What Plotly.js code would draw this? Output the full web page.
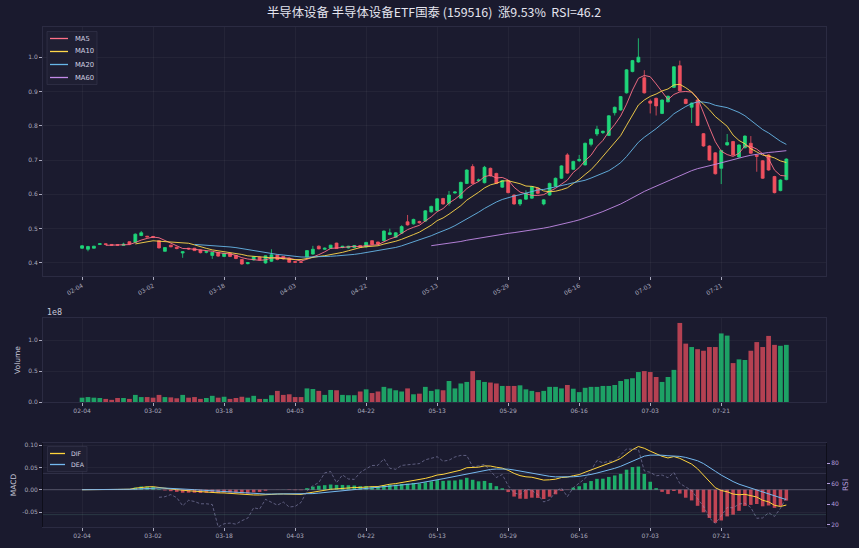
<!DOCTYPE html>
<html>
<head>
<meta charset="utf-8">
<script src="https://cdn.plot.ly/plotly-3.0.1.min.js"></script>
<style>
html,body{margin:0;padding:0;background:#1a1a2e;}
#chart{width:859px;height:548px;}
</style>
</head>
<body>
<div id="chart"></div>
<script>
// ---------- data ----------
const dates = [
"02-04","02-05","02-06","02-09","02-10","02-11","02-12","02-13","02-24","02-25",
"02-26","02-27","03-02","03-03","03-04","03-05","03-06","03-09","03-10","03-11",
"03-12","03-13","03-16","03-17","03-18","03-19","03-20","03-23","03-24","03-25",
"03-26","03-27","03-30","03-31","04-01","04-02","04-03","04-07","04-08","04-09",
"04-10","04-13","04-14","04-15","04-16","04-17","04-20","04-21","04-22","04-23",
"04-24","04-27","04-28","04-29","04-30","05-06","05-07","05-08","05-11","05-12",
"05-13","05-14","05-15","05-18","05-19","05-20","05-21","05-22","05-25","05-26",
"05-27","05-28","05-29","06-01","06-02","06-03","06-04","06-05","06-08","06-09",
"06-10","06-11","06-12","06-15","06-16","06-17","06-18","06-22","06-23","06-24",
"06-25","06-26","06-29","06-30","07-01","07-02","07-03","07-06","07-07","07-08",
"07-09","07-10","07-13","07-14","07-15","07-16","07-17","07-20","07-21","07-22",
"07-23","07-24","07-27","07-28","07-29","07-30","07-31","08-03","08-04","08-05"
];
const openP = [
0.443,0.440,0.443,0.454,0.456,0.454,0.453,0.451,0.462,0.460,
0.480,0.478,0.477,0.465,0.434,0.452,0.446,0.429,0.443,0.443,
0.438,0.431,0.422,0.431,0.419,0.428,0.422,0.410,0.398,0.409,
0.417,0.400,0.405,0.423,0.419,0.414,0.404,0.403,0.418,0.426,
0.449,0.440,0.443,0.458,0.445,0.444,0.445,0.451,0.447,0.465,
0.461,0.465,0.483,0.475,0.487,0.520,0.514,0.521,0.522,0.549,
0.553,0.588,0.574,0.604,0.589,0.632,0.681,0.640,0.634,0.676,
0.661,0.621,0.640,0.598,0.572,0.586,0.589,0.618,0.572,0.598,
0.624,0.647,0.715,0.673,0.698,0.686,0.746,0.776,0.780,0.772,
0.838,0.846,0.896,0.958,0.986,0.940,0.872,0.880,0.836,0.870,
0.912,0.975,0.877,0.854,0.875,0.777,0.741,0.721,0.676,0.744,
0.754,0.709,0.736,0.749,0.714,0.698,0.715,0.652,0.611,0.643
];
const highP = [
0.452,0.450,0.450,0.458,0.457,0.455,0.454,0.459,0.463,0.486,
0.493,0.479,0.479,0.466,0.446,0.453,0.447,0.434,0.444,0.444,
0.439,0.435,0.432,0.432,0.429,0.429,0.423,0.411,0.402,0.419,
0.418,0.422,0.440,0.424,0.420,0.416,0.405,0.404,0.437,0.450,
0.451,0.445,0.453,0.459,0.450,0.450,0.452,0.452,0.461,0.466,
0.462,0.495,0.500,0.490,0.510,0.540,0.529,0.523,0.554,0.567,
0.589,0.590,0.610,0.609,0.637,0.673,0.688,0.646,0.683,0.678,
0.663,0.642,0.642,0.600,0.586,0.612,0.624,0.620,0.586,0.634,
0.649,0.685,0.720,0.698,0.715,0.751,0.763,0.800,0.786,0.831,
0.856,0.887,0.965,0.992,1.055,0.962,0.877,0.882,0.877,0.888,
0.974,0.990,0.879,0.868,0.877,0.779,0.743,0.723,0.730,0.776,
0.756,0.746,0.772,0.770,0.716,0.700,0.717,0.654,0.644,0.705
];
const lowP = [
0.441,0.434,0.442,0.453,0.453,0.451,0.451,0.450,0.452,0.458,
0.478,0.475,0.473,0.442,0.433,0.446,0.440,0.415,0.438,0.435,
0.428,0.428,0.412,0.418,0.417,0.417,0.411,0.395,0.396,0.407,
0.407,0.398,0.403,0.408,0.410,0.400,0.401,0.401,0.416,0.424,
0.440,0.438,0.441,0.441,0.443,0.442,0.443,0.445,0.445,0.452,
0.453,0.463,0.481,0.473,0.485,0.509,0.512,0.515,0.520,0.547,
0.550,0.570,0.567,0.602,0.587,0.630,0.630,0.636,0.632,0.652,
0.630,0.619,0.603,0.570,0.566,0.584,0.587,0.600,0.568,0.596,
0.622,0.645,0.660,0.671,0.695,0.684,0.740,0.770,0.776,0.770,
0.830,0.844,0.894,0.956,0.984,0.894,0.836,0.830,0.834,0.868,
0.910,0.900,0.863,0.808,0.799,0.739,0.698,0.658,0.630,0.742,
0.713,0.707,0.734,0.718,0.666,0.645,0.669,0.603,0.609,0.641
];
const closeP = [
0.450,0.448,0.449,0.456,0.454,0.452,0.452,0.455,0.455,0.484,
0.488,0.476,0.475,0.444,0.445,0.447,0.442,0.433,0.441,0.436,
0.430,0.433,0.431,0.420,0.428,0.419,0.413,0.397,0.401,0.418,
0.409,0.421,0.424,0.410,0.412,0.402,0.402,0.402,0.436,0.440,
0.441,0.443,0.452,0.442,0.449,0.449,0.451,0.446,0.460,0.454,
0.455,0.493,0.488,0.488,0.506,0.511,0.527,0.517,0.552,0.565,
0.587,0.572,0.598,0.607,0.635,0.671,0.632,0.642,0.679,0.654,
0.632,0.640,0.605,0.572,0.584,0.603,0.622,0.603,0.584,0.632,
0.647,0.683,0.662,0.696,0.702,0.749,0.761,0.790,0.784,0.829,
0.854,0.885,0.963,0.990,1.000,0.896,0.866,0.858,0.875,0.886,
0.972,0.902,0.865,0.866,0.801,0.741,0.700,0.660,0.728,0.751,
0.715,0.744,0.770,0.720,0.711,0.647,0.671,0.605,0.642,0.703
];
// volume in units of 1e8
const volume1e8 = [
0.07,0.08,0.07,0.065,0.05,0.035,0.065,0.065,0.05,0.115,
0.08,0.08,0.07,0.115,0.08,0.075,0.06,0.115,0.07,0.08,
0.05,0.065,0.10,0.07,0.085,0.05,0.065,0.085,0.07,0.10,
0.05,0.05,0.11,0.18,0.115,0.125,0.08,0.08,0.22,0.21,
0.18,0.115,0.195,0.19,0.115,0.11,0.11,0.17,0.205,0.145,
0.17,0.245,0.22,0.19,0.17,0.22,0.125,0.135,0.245,0.18,
0.205,0.19,0.34,0.22,0.30,0.325,0.50,0.355,0.325,0.315,
0.30,0.26,0.26,0.26,0.27,0.205,0.18,0.16,0.18,0.245,
0.245,0.22,0.275,0.215,0.16,0.23,0.245,0.245,0.26,0.26,
0.275,0.34,0.37,0.385,0.485,0.50,0.485,0.405,0.325,0.405,
0.52,1.28,0.945,0.89,0.855,0.83,0.89,0.89,1.11,1.075,
0.63,0.69,0.68,0.83,0.97,0.89,1.07,0.925,0.91,0.925
];
const tickDates = ["02-04","03-02","03-18","04-03","04-22","05-13","05-29","06-16","07-03","07-21"];
const titleText = "半导体设备 半导体设备ETF国泰 (159516) &nbsp;涨9.53% &nbsp;RSI=46.2";

// ---------- indicators derived from the closes ----------
function ma(arr, n){ return arr.map((v,i)=>{ if(i<n-1) return null; let s=0; for(let k=i-n+1;k<=i;k++) s+=arr[k]; return s/n; }); }
function ema(arr, n){ const a=2/(n+1); const out=[]; arr.forEach((v,i)=>{ out.push(i===0? v : a*v+(1-a)*out[i-1]); }); return out; }
const ma5=ma(closeP,5), ma10=ma(closeP,10), ma20=ma(closeP,20), ma60=ma(closeP,60);
const e12=ema(closeP,12), e26=ema(closeP,26);
const dif=e12.map((v,i)=>v-e26[i]);
const dea=ema(dif,9);
const hist=dif.map((v,i)=>2*(v-dea[i]));
const gains=closeP.map((v,i)=> i===0?0:Math.max(v-closeP[i-1],0));
const losses=closeP.map((v,i)=> i===0?0:Math.max(closeP[i-1]-v,0));
const rsi=closeP.map((v,i)=>{ if(i<13) return null; let g=0,l=0; for(let k=i-13;k<=i;k++){g+=gains[k];l+=losses[k];} return l===0?100:100*g/(g+l); });

// ---------- styling ----------
const W=859, H=548;
const UP='#1fd67a', DN='#f0505f';
const upVolCol='rgba(31,214,122,0.72)', dnVolCol='rgba(240,80,95,0.72)';
const volColors=closeP.map((c,i)=> c>=openP[i]? upVolCol : dnVolCol);
const histColors=hist.map(h=> h>=0? 'rgba(31,214,122,0.78)' : 'rgba(240,80,95,0.78)');
const TICK={family:'DejaVu Sans', size:6, color:'#a9a9bd'};
const GRID='rgba(255,255,255,0.045)';
const XR=[-6.6,125.7];
const XD=[43/W, 826/W];

const maSeries=[
 {name:'MA5', y:ma5, color:'#ff7088'},
 {name:'MA10', y:ma10, color:'#ffd84a'},
 {name:'MA20', y:ma20, color:'#67b7e8'},
 {name:'MA60', y:ma60, color:'#c38ae8'}
];
const macdSeries=[
 {name:'DIF', y:dif, color:'#ffd43b'},
 {name:'DEA', y:dea, color:'#74b9f0'}
];

const traces=[
 {type:'candlestick', x:dates, open:openP, high:highP, low:lowP, close:closeP, xaxis:'x', yaxis:'y',
  increasing:{line:{color:UP,width:0.8}, fillcolor:UP}, decreasing:{line:{color:DN,width:0.8}, fillcolor:DN},
  whiskerwidth:0, showlegend:false, hoverinfo:'skip'}
];
maSeries.forEach(s=>traces.push({type:'scatter', mode:'lines', x:dates, y:s.y, name:s.name, line:{color:s.color,width:0.9}, xaxis:'x', yaxis:'y', showlegend:false}));
traces.push({type:'bar', x:dates, y:volume1e8, marker:{color:volColors, line:{width:0}}, width:0.8, xaxis:'x2', yaxis:'y2', showlegend:false, hoverinfo:'skip'});
traces.push({type:'bar', x:dates, y:hist, marker:{color:histColors, line:{width:0}}, width:0.6, xaxis:'x3', yaxis:'y3', showlegend:false, hoverinfo:'skip'});
traces.push({type:'scatter', mode:'lines', x:dates, y:rsi, name:'RSI', line:{color:'rgba(150,150,195,0.6)',width:0.9,dash:'3px,2px'}, xaxis:'x3', yaxis:'y4', showlegend:false});
macdSeries.forEach(s=>traces.push({type:'scatter', mode:'lines', x:dates, y:s.y, name:s.name, line:{color:s.color,width:1}, xaxis:'x3', yaxis:'y3', showlegend:false}));

function xAxis(anchor, angle){
 return {domain:XD, anchor:anchor, type:'category', range:XR, tickmode:'array', tickvals:tickDates, ticktext:tickDates,
  tickangle:angle, tickfont:TICK, ticks:'outside', ticklen:3, tickcolor:'#a9a9bd', showgrid:true, gridcolor:GRID,
  showline:true, mirror:true, linecolor:'#2b2b42', linewidth:1, zeroline:false, rangeslider:{visible:false}, fixedrange:true};
}

// legend boxes drawn in paper pixels (matplotlib-style compact legend)
const shapes=[
 {type:'line', xref:'x3 domain', x0:0, x1:1, yref:'y4', y0:70, y1:70, line:{color:'rgba(170,170,200,0.22)', width:0.8}},
 {type:'line', xref:'x3 domain', x0:0, x1:1, yref:'y4', y0:30, y1:30, line:{color:'rgba(120,200,170,0.22)', width:0.8}},
 {type:'line', xref:'x3 domain', x0:0, x1:1, yref:'y3', y0:0, y1:0, line:{color:'rgba(170,170,190,0.45)', width:0.8}}
];
const annotations=[
 {text:'1e8', xref:'paper', yref:'paper', x:45/W, y:1-312/H, xanchor:'left', yanchor:'middle', showarrow:false,
  font:{family:'DejaVu Sans', size:8, color:'#c8c8d8'}}
];
function addLegend(series, box, rowY, lineX0, lineX1, textX, fs){
 shapes.push({type:'rect', xref:'paper', yref:'paper', x0:box[0]/W, x1:box[2]/W, y0:1-box[1]/H, y1:1-box[3]/H,
  fillcolor:'rgba(32,32,52,0.85)', line:{color:'#33334a', width:0.7}, layer:'above'});
 series.forEach((s,k)=>{
  const yy=rowY[k];
  shapes.push({type:'line', xref:'paper', yref:'paper', x0:lineX0/W, x1:lineX1/W, y0:1-yy/H, y1:1-yy/H,
   line:{color:s.color, width:1.3}, layer:'above'});
  annotations.push({text:s.name, xref:'paper', yref:'paper', x:textX/W, y:1-yy/H, xanchor:'left', yanchor:'middle',
   showarrow:false, font:{family:'DejaVu Sans', size:fs, color:'#cfcfe0'}});
 });
}
addLegend(maSeries, [47,31.5,97,84.5], [38.5,51.5,64.5,77.5], 50, 68, 73, 6.8);
addLegend(macdSeries, [47.5,446.5,87,471.5], [453.5,464.5], 50, 65, 69, 6.2);

const layout={
 width:W, height:H, margin:{l:0,r:0,t:0,b:0},
 paper_bgcolor:'#1a1a2e', plot_bgcolor:'#1b1b2f',
 font:{family:'DejaVu Sans', color:'#c8c8d8'},
 title:{text:titleText, x:434/W, xanchor:'center', y:1-13/H, yanchor:'middle',
  font:{family:'Noto Sans CJK SC, DejaVu Sans', size:12.4, color:'#e4e4ee'}},
 xaxis:xAxis('y',-30),
 yaxis:{domain:[1-276/H, 1-27/H], anchor:'x', range:[0.362,1.088], tickmode:'array',
  tickvals:[0.4,0.5,0.6,0.7,0.8,0.9,1.0], ticktext:['0.4','0.5','0.6','0.7','0.8','0.9','1.0'],
  tickfont:TICK, ticks:'outside', ticklen:3, tickcolor:'#a9a9bd', showgrid:true, gridcolor:GRID,
  showline:true, mirror:true, linecolor:'#2b2b42', zeroline:false, fixedrange:true},
 xaxis2:xAxis('y2',0),
 yaxis2:{domain:[1-402/H, 1-318/H], anchor:'x2', range:[0,1.36], tickmode:'array',
  tickvals:[0,0.5,1.0], ticktext:['0.0','0.5','1.0'], tickfont:TICK, ticks:'outside', ticklen:3, tickcolor:'#a9a9bd',
  showgrid:true, gridcolor:GRID, showline:true, mirror:true, linecolor:'#2b2b42', zeroline:false,
  title:{text:'Volume', font:{family:'DejaVu Sans', size:7.5, color:'#c8c8d8'}, standoff:6}, fixedrange:true},
 xaxis3:xAxis('y3',0),
 yaxis3:{domain:[1-527/H, 1-443/H], anchor:'x3', range:[-0.0836,0.1047], tickmode:'array',
  tickvals:[-0.05,0,0.05,0.10], ticktext:['-0.05','0.00','0.05','0.10'], tickfont:TICK, ticks:'outside', ticklen:3, tickcolor:'#a9a9bd',
  showgrid:true, gridcolor:GRID, showline:true, mirror:true, linecolor:'#0e0e1a', zeroline:false,
  title:{text:'MACD', font:{family:'DejaVu Sans', size:7.5, color:'#c8c8d8'}, standoff:4}, fixedrange:true},
 yaxis4:{overlaying:'y3', side:'right', anchor:'x3', range:[18,99.5], tickmode:'array', tickvals:[20,40,60,80],
  ticktext:['20','40','60','80'], tickfont:{family:'DejaVu Sans', size:6, color:'#b39ddb'}, ticks:'outside', ticklen:3, tickcolor:'#b39ddb',
  showgrid:false, zeroline:false, title:{text:'RSI', font:{family:'DejaVu Sans', size:7.5, color:'#b39ddb'}, standoff:4}, fixedrange:true},
 shapes:shapes,
 annotations:annotations,
 showlegend:false,
 boxgap:0.3
};
Plotly.newPlot('chart', traces, layout, {displayModeBar:false, staticPlot:true});
</script>
</body>
</html>
